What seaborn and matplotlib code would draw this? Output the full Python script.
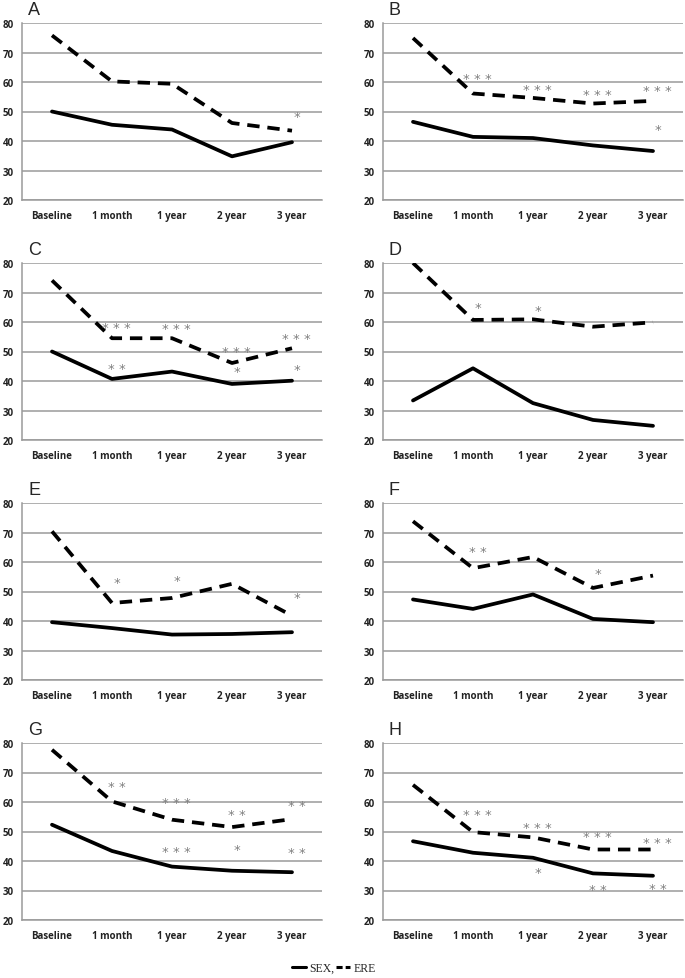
import pandas as pd
import numpy as np
import matplotlib
matplotlib.use("Agg")
import matplotlib.pyplot as plt
import matplotlib.transforms as mtransforms
import seaborn as sns
from matplotlib.lines import Line2D

times = ["Baseline", "1 month", "1 year", "2 year", "3 year"]

sex_A = [50.0, 45.5, 43.9, 34.8, 39.6]
ere_A = [75.8, 60.2, 59.4, 46.1, 43.5]
stars_A = [("3 year", 49.8, "*")]

sex_B = [46.5, 41.4, 41.0, 38.5, 36.6]
ere_B = [74.9, 56.1, 54.6, 52.7, 53.6]
stars_B = [("1 month", 62.6, "***"), ("1 year", 59.0, "***"), ("2 year", 57.3, "***"),
           ("3 year", 58.6, "***"), ("3 year", 45.5, "*")]

sex_C = [50.0, 40.7, 43.2, 39.0, 40.1]
ere_C = [74.1, 54.5, 54.5, 46.1, 51.1]
stars_C = [("1 month", 59.6, "***"), ("1 month", 45.8, "**"), ("1 year", 59.2, "***"),
           ("2 year", 51.4, "***"), ("2 year", 44.7, "*"), ("3 year", 55.8, "***"),
           ("3 year", 45.5, "*")]

sex_D = [33.4, 44.3, 32.5, 26.8, 24.8]
ere_D = [80.0, 60.7, 60.9, 58.4, 59.9]
stars_D = [("1 month", 66.4, "*"), ("1 year", 65.2, "*")]

sex_E = [39.6, 37.6, 35.4, 35.6, 36.2]
ere_E = [70.4, 46.1, 47.8, 52.6, 41.8]
stars_E = [("1 month", 54.6, "*"), ("1 year", 55.1, "*"), ("3 year", 49.5, "*")]

sex_F = [47.3, 44.1, 49.0, 40.7, 39.6]
ere_F = [73.8, 57.9, 61.7, 51.2, 55.4]
stars_F = [("1 month", 65.0, "**"), ("2 year", 57.7, "*")]

sex_G = [52.3, 43.4, 38.1, 36.7, 36.2]
ere_G = [77.7, 60.2, 54.0, 51.5, 54.2]
stars_G = [("1 month", 66.7, "**"), ("1 year", 61.3, "***"), ("2 year", 57.3, "**"),
           ("3 year", 60.2, "**"), ("1 year", 44.6, "***"), ("2 year", 45.2, "*"),
           ("3 year", 44.3, "**")]

sex_H = [46.7, 42.8, 41.1, 35.8, 35.0]
ere_H = [65.8, 49.8, 48.0, 43.9, 43.9]
stars_H = [("1 month", 57.3, "***"), ("1 year", 52.9, "***"), ("2 year", 49.6, "***"),
           ("3 year", 47.7, "***"), ("1 year", 37.6, "*"), ("2 year", 31.9, "**"),
           ("3 year", 32.2, "**")]

panels = [("A", sex_A, ere_A, stars_A), ("B", sex_B, ere_B, stars_B),
          ("C", sex_C, ere_C, stars_C), ("D", sex_D, ere_D, stars_D),
          ("E", sex_E, ere_E, stars_E), ("F", sex_F, ere_F, stars_F),
          ("G", sex_G, ere_G, stars_G), ("H", sex_H, ere_H, stars_H)]

sns.set_style("white")
W, H = 685, 979
fig = plt.figure(figsize=(W / 100, H / 100), dpi=100)

grid_col = "#9a9a9a"
lw = 2.7
dash = (3.3, 2.1)
star_fs = 9.5

for i, (letter, sex, ere, stars) in enumerate(panels):
    row, col = divmod(i, 2)
    x0 = 22 if col == 0 else 383
    top = 24 + 240 * row
    bot = 201 + 240 * row
    ax = fig.add_axes([x0 / W, 1 - bot / H, 300 / W, (bot - top) / H])

    df = pd.DataFrame({
        "time": times * 2,
        "value": sex + ere,
        "series": ["SEX"] * 5 + ["ERE"] * 5,
    })
    sns.lineplot(data=df, x="time", y="value", style="series",
                 dashes={"SEX": "", "ERE": dash}, color="black",
                 linewidth=lw, legend=False, ax=ax, sort=False)

    # the asterisk glyph sits high, so anchor on baseline and shift down
    star_tr = mtransforms.offset_copy(ax.transData, fig=fig, y=-0.59 * star_fs, units="points")
    for t, yv, lab in stars:
        xi = times.index(t) + 0.08
        ax.text(xi, yv, " ".join(lab), ha="center", va="baseline",
                fontsize=star_fs, color="#808080", transform=star_tr)

    ax.set_xlim(-0.5, 4.5)
    ax.set_ylim(20, 80)
    ax.set_yticks(range(20, 81, 10))
    ax.yaxis.grid(True, color=grid_col, linewidth=1.1)
    ax.set_axisbelow(True)
    ax.set_xticks(range(5))
    ax.set_xticklabels(times)
    ax.set_xticks(np.arange(-0.5, 5, 1), minor=True)
    ax.tick_params(axis="x", which="major", length=0, pad=7)
    ax.tick_params(axis="x", which="minor", length=4, color=grid_col, direction="out")
    ax.tick_params(axis="y", length=3, color=grid_col, pad=3)
    for lab in ax.get_xticklabels() + ax.get_yticklabels():
        lab.set_fontfamily("Open Sans")
        lab.set_fontweight("bold")
        lab.set_fontsize(7)
        lab.set_color("#222222")
    ax.set_xlabel("")
    ax.set_ylabel("")
    for s in ["top", "right"]:
        ax.spines[s].set_visible(False)
    for s in ["left", "bottom"]:
        ax.spines[s].set_color(grid_col)
        ax.spines[s].set_linewidth(1.1)

    ax.text(0.02, 1.05, letter, transform=ax.transAxes, fontsize=13,
            fontfamily="Liberation Sans", ha="left", va="baseline")

handles = [Line2D([], [], color="black", lw=2.2),
           Line2D([], [], color="black", lw=2.2, dashes=(2.0, 1.0))]
fig.legend(handles, ["SEX,", "ERE"], loc="center", bbox_to_anchor=(0.487, 1 - 969 / H),
           ncol=2, frameon=False, handlelength=1.2, handletextpad=0.3,
           columnspacing=0.1, prop={"family": "Liberation Serif", "size": 8.5})

fig.savefig("out.png", dpi=100)
